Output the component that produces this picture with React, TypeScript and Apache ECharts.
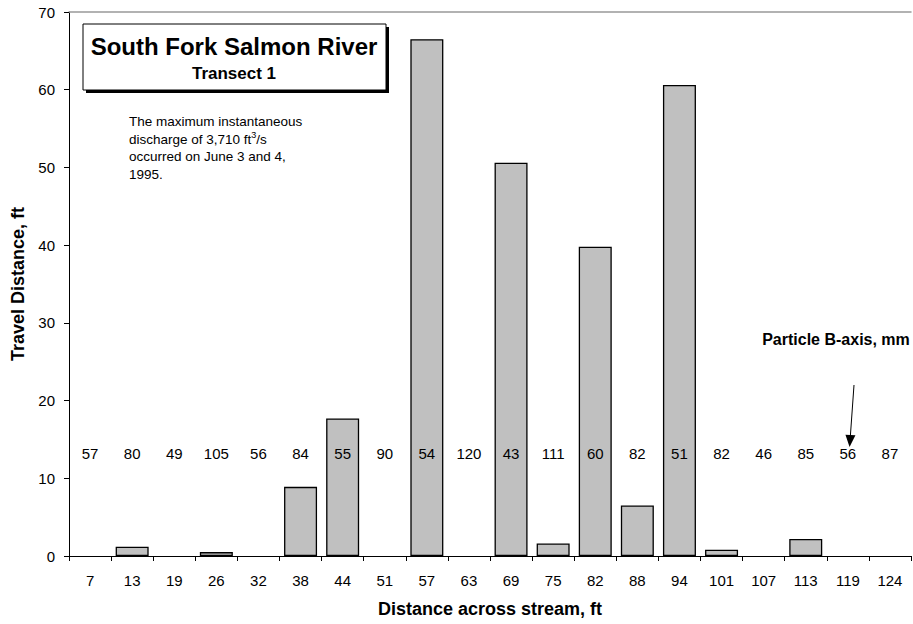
import React, { useEffect, useRef } from "react";
import * as echarts from "echarts";

const categories = ["7", "13", "19", "26", "32", "38", "44", "51", "57", "63", "69", "75", "82", "88", "94", "101", "107", "113", "119", "124"];
const travelDistance = [0, 1.2, 0, 0.5, 0, 8.9, 17.7, 0, 66.5, 0, 50.6, 1.6, 39.8, 6.5, 60.6, 0.8, 0, 2.2, 0, 0];
const particleBAxis = [57, 80, 49, 105, 56, 84, 55, 90, 54, 120, 43, 111, 60, 82, 51, 82, 46, 85, 56, 87];
const particleLabelLevel = 13.2;
const yTicks = { min: 0, max: 70, interval: 10 };

const FONT = "Liberation Sans, Arial, sans-serif";

export default function App() {
  const ref = useRef<HTMLDivElement>(null);
  useEffect(() => {
    if (!ref.current) return;
    const chart = echarts.init(ref.current, undefined, { renderer: "svg" });
    chart.setOption({
      animation: false,
      textStyle: { fontFamily: FONT },
      grid: { left: 69, right: 2, top: 12, bottom: 68 },
      xAxis: [
        {
          type: "category",
          data: categories,
          boundaryGap: true,
          axisLine: { lineStyle: { color: "#000", width: 1 } },
          axisTick: { show: true, alignWithLabel: false, length: 5, lineStyle: { color: "#000" } },
          axisLabel: { color: "#000", fontSize: 15, fontFamily: FONT, margin: 17, interval: 0 },
          name: "Distance across stream, ft",
          nameLocation: "middle",
          nameGap: 44,
          nameTextStyle: { color: "#000", fontSize: 18, fontWeight: "bold", fontFamily: FONT },
        },
        {
          type: "category",
          data: categories,
          position: "top",
          axisLine: { lineStyle: { color: "#999", width: 1.5 } },
          axisTick: { show: false },
          axisLabel: { show: false },
        },
      ],
      yAxis: {
        type: "value",
        min: yTicks.min,
        max: yTicks.max,
        interval: yTicks.interval,
        axisLine: { show: true, lineStyle: { color: "#000", width: 1 } },
        axisTick: { show: true, length: 5, lineStyle: { color: "#000" } },
        splitLine: { show: false },
        axisLabel: { color: "#000", fontSize: 15, fontFamily: FONT, margin: 14 },
        name: "Travel Distance, ft",
        nameLocation: "middle",
        nameGap: 40,
        nameTextStyle: { color: "#000", fontSize: 18, fontWeight: "bold", fontFamily: FONT },
      },
      series: [
        {
          type: "bar",
          data: travelDistance.map((v) => (v === 0 ? { value: v, itemStyle: { borderWidth: 0 } } : v)),
          barWidth: 33,
          itemStyle: { color: "#c0c0c0", borderColor: "#000", borderWidth: 1.3 },
          z: 2,
        },
        {
          type: "scatter",
          data: particleBAxis.map((v, i) => [i, particleLabelLevel, v]),
          symbolSize: 0,
          z: 5,
          itemStyle: { opacity: 1 },
          emphasis: { disabled: true },
          label: {
            show: true,
            position: "inside",
            formatter: (p: any) => String(p.value[2]),
            color: "#000",
            fontSize: 15,
            fontFamily: FONT,
          },
          markLine: {
            silent: true,
            symbol: ["none", "triangle"],
            symbolSize: [10, 12],
            label: { show: false },
            lineStyle: { color: "#000", width: 1, type: "solid" },
            data: [[{ x: 854, y: 385 }, { x: 850, y: 441 }]],
          },
        },
      ],
      graphic: [
        { type: "rect", shape: { x: 86, y: 27, width: 303, height: 66 }, style: { fill: "#000" }, z: 10 },
        { type: "rect", shape: { x: 83, y: 24, width: 303, height: 66 }, style: { fill: "#fff", stroke: "#000", lineWidth: 1 }, z: 11 },
        {
          type: "text", x: 234, y: 46, z: 12,
          style: { text: "South Fork Salmon River", fontSize: 24, fontWeight: "bold", fontFamily: FONT, fill: "#000", align: "center", verticalAlign: "middle" },
        },
        {
          type: "text", x: 234, y: 73, z: 12,
          style: { text: "Transect 1", fontSize: 17, fontWeight: "bold", fontFamily: FONT, fill: "#000", align: "center", verticalAlign: "middle" },
        },
        {
          type: "text", x: 129, y: 113, z: 12,
          style: {
            text: "The maximum instantaneous\ndischarge of 3,710 ft{sup|3}/s\noccurred on June 3 and 4,\n1995.",
            fontSize: 13.5, fontFamily: FONT, fill: "#000", lineHeight: 17.5,
            rich: { sup: { fontSize: 9, verticalAlign: "top", lineHeight: 17.5, padding: [0, 0, 7, 0], fontFamily: FONT, fill: "#000" } },
          },
        },
        {
          type: "text", x: 836, y: 339, z: 12,
          style: { text: "Particle B-axis, mm", fontSize: 16, fontWeight: "bold", fontFamily: FONT, fill: "#000", align: "center", verticalAlign: "middle" },
        },
      ],
    });
    return () => chart.dispose();
  }, []);
  return <div ref={ref} style={{ width: 913, height: 624, position: "absolute", left: 0, top: 0 }} />;
}
